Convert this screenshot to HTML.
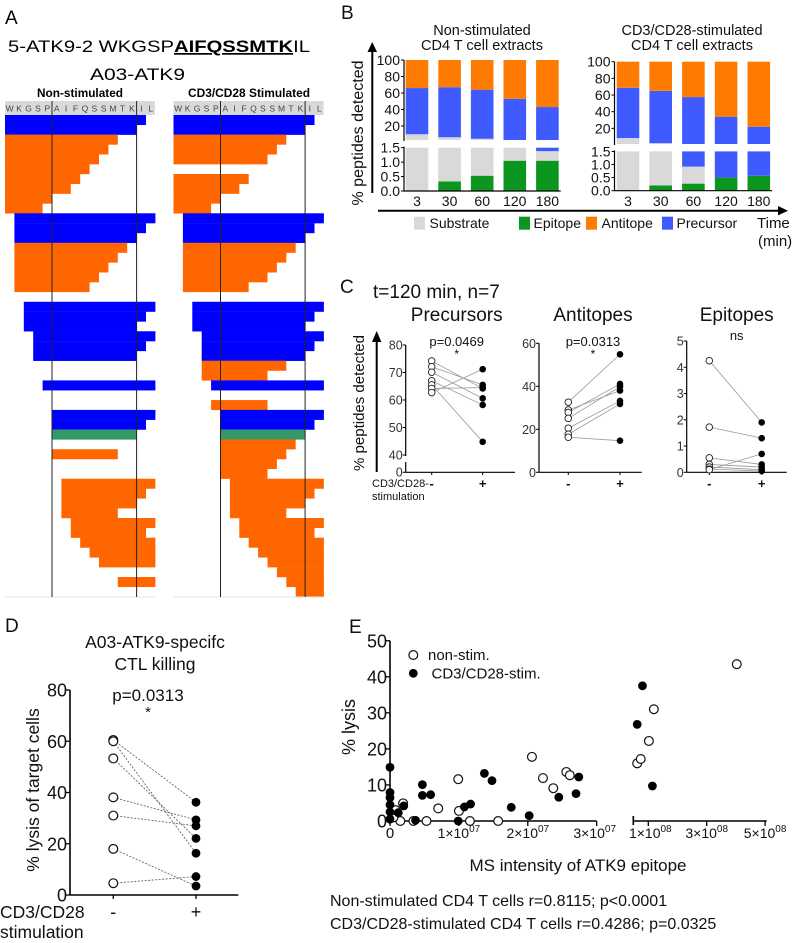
<!DOCTYPE html>
<html><head><meta charset="utf-8">
<style>
html,body{margin:0;padding:0;background:#fff;}
svg{display:block;font-family:"Liberation Sans",Arial,sans-serif;}
</style></head>
<body>
<svg id="fig" width="800" height="943" viewBox="0 0 800 943" xmlns="http://www.w3.org/2000/svg">
  <!-- Panel A static text -->
  <text x="5" y="24" font-size="19">A</text>
  <text x="8" y="52" font-size="17" textLength="302" lengthAdjust="spacingAndGlyphs">5-ATK9-2 WKGSP<tspan font-weight="bold" text-decoration="underline">AIFQSSMTK</tspan>IL</text>
  <text x="90" y="80" font-size="17" textLength="95" lengthAdjust="spacingAndGlyphs">A03-ATK9</text>
  <text x="37" y="97" font-size="12" font-weight="bold" textLength="86" lengthAdjust="spacingAndGlyphs">Non-stimulated</text>
  <text x="188" y="97" font-size="12" font-weight="bold" textLength="122" lengthAdjust="spacingAndGlyphs">CD3/CD28 Stimulated</text>
  <g id="panelA"></g>
  <g id="panelB"></g>
  <g id="panelC"></g>
  <g id="panelD"></g>
  <g id="panelE"></g>
</svg>
<script>
// ---------- DATA ----------
// Panel A rows: [row, type(P=precursor,A=antitope,E=epitope), startResidue, endResidue]
const aResidues = ['W','K','G','S','P','A','I','F','Q','S','S','M','T','K','I','L'];
const aLeftRows = [[0,'P',0,15],[1,'P',0,14],[2,'A',0,12],[3,'A',0,11],[4,'A',0,10],[5,'A',0,9],[6,'A',0,8],[7,'A',0,7],[8,'A',0,5],[9,'A',0,4],[10,'P',1,16],[11,'P',1,15],[12,'P',1,14],[13,'A',1,13],[14,'A',1,12],[15,'A',1,11],[16,'A',1,10],[17,'A',1,9],[19,'P',2,16],[20,'P',2,15],[21,'P',2,14],[22,'P',3,16],[23,'P',3,15],[24,'P',3,14],[27,'P',4,16],[30,'P',5,16],[31,'P',5,15],[32,'E',5,14],[34,'A',5,12],[37,'A',6,16],[38,'A',6,15],[39,'A',6,14],[40,'A',6,12],[41,'A',7,16],[42,'A',7,15],[43,'A',8,16],[44,'A',9,16],[45,'A',10,16],[47,'A',12,16]];
const aRightRows = [[0,'P',0,15],[1,'P',0,14],[2,'A',0,12],[3,'A',0,11],[4,'A',0,10],[6,'A',0,8],[7,'A',0,7],[8,'A',0,5],[9,'A',0,4],[10,'P',1,16],[11,'P',1,15],[12,'P',1,14],[13,'A',1,13],[14,'A',1,12],[15,'A',1,11],[16,'A',1,10],[17,'A',1,8],[19,'P',2,16],[20,'P',2,15],[21,'P',2,14],[22,'P',3,16],[23,'P',3,15],[24,'P',3,14],[25,'A',3,12],[26,'A',3,10],[27,'P',4,16],[29,'A',4,10],[30,'P',5,16],[31,'P',5,15],[32,'E',5,14],[33,'A',5,13],[34,'A',5,12],[35,'A',5,11],[36,'A',5,10],[37,'A',6,16],[38,'A',6,15],[39,'A',6,14],[40,'A',6,12],[41,'A',7,16],[42,'A',7,15],[43,'A',8,16],[44,'A',9,16],[45,'A',10,16],[46,'A',11,16],[47,'A',12,16],[48,'A',13,16]];

// Panel B
const bTimes = ['3','30','60','120','180'];
const bNsSubstrate = [10, 6, 4, 1.5, 0.33];
const bNsEpitope = [0, 0.33, 0.53, 1.05, 1.05];
const bNsPrecursor = [56, 60.7, 59.5, 50.5, 41.6];
const bStSubstrate = [8.3, 2, 0.65, 0, 0];
const bStEpitope = [0, 0.2, 0.27, 0.5, 0.57];
const bStPrecursor = [60.4, 62.8, 56.6, 33.5, 21.4];
const bUpperTicks = [20, 40, 60, 80, 100];
const bLowerTicks = [0, 0.5, 1.0, 1.5];
const bLegend = ['Substrate','Epitope','Antitope','Precursor'];

// Panel C
const cPreMinus = [74.2, 72.1, 70.1, 67, 65.5, 64.2, 62.7];
const cPrePlus = [64.2, 65.5, 60.6, 58.2, 44.8, 64.5, 71.2];
const cAntiMinus = [32.6, 29.0, 27.8, 25.1, 20.5, 17.7, 16.3];
const cAntiPlus = [54.9, 38.0, 41.1, 39.8, 33.2, 31.8, 14.7];
const cEpiMinus = [4.25, 1.72, 0.55, 0.3, 0.2, 0.12, 0.1];
const cEpiPlus = [1.9, 1.3, 0.3, 0.2, 0.1, 0.05, 0.7];
const cPreTicks = [40, 50, 60, 70, 80];
const cAntiTicks = [0, 20, 40, 60];
const cEpiTicks = [0, 1, 2, 3, 4, 5];

// Panel D
const dMinus = [60.5, 60, 53.3, 38.1, 31, 18, 4.6];
const dPlus = [36.2, 16.3, 22.1, 29.3, 27, 3.5, 7.2];
const dTicks = [0, 20, 40, 60, 80];

// Panel E (x in units of 1e7)
const eOpenX = [0.15, 0.19, 0.7, 0.99, 1.0, 0.34, 0.53, 1.16, 1.57, 2.06, 2.22, 2.37, 2.56, 2.61, 0.05, 0.08, 6.2, 7.4, 10.2, 11.9, 40.3];
const eOpenY = [0, 4.9, 3.5, 11.6, 2.8, 0, 0, 0, 0, 17.8, 11.9, 9.1, 13.6, 12.7, 1, 3, 16, 17.2, 22.2, 31, 43.5];
const eFillX = [0, 0, 0, 0, 0, 0, 0.12, 0.2, 0.37, 0.47, 0.47, 0.59, 0.99, 1.08, 1.17, 1.37, 1.48, 1.76, 2.02, 2.45, 2.7, 2.74, 6.2, 8.0, 11.4];
const eFillY = [14.9, 7.9, 6.5, 4.5, 2.5, 0.5, 2.3, 4.2, 0.2, 10.1, 7.1, 7.3, 0, 3.9, 4.7, 13.2, 11.2, 3.8, 1.5, 6.6, 7.6, 12.2, 26.8, 37.5, 9.7];
const eYTicks = [0, 10, 20, 30, 40, 50];
const eXTicks1 = [0, 1, 2, 3];
const eXTicks2 = [10, 30, 50];

// ---------- HELPERS ----------
const NS = 'http://www.w3.org/2000/svg';
function mk(tag, attrs, name, parent) {
  const el = document.createElementNS(NS, tag);
  for (const k in attrs) el.setAttribute(k, attrs[k]);
  
  
  parent.appendChild(el);
  return el;
}
function tx(parent, x, y, s, size, anchor, name, extra) {
  const a = Object.assign({x: x, y: y, 'font-size': size, 'text-anchor': anchor || 'start', fill: '#111'}, extra || {});
  const t = mk('text', a, name, parent);
  t.textContent = s;
  return t;
}
function line(parent, x1, y1, x2, y2, name, stroke, w, dash) {
  const a = {x1: x1, y1: y1, x2: x2, y2: y2, stroke: stroke || '#000', 'stroke-width': w || 1};
  if (dash) a['stroke-dasharray'] = dash;
  return mk('line', a, name, parent);
}
const COL = {P: '#0000ff', A: '#ff6600', E: '#339966'};

// ---------- PANEL A ----------
(function () {
  const g = document.getElementById('panelA');
  const cw = 9.4, rh = 9.83, y0 = 115;
  function map(gx, rows, side) {
    mk('rect', {x: gx, y: 101, width: 150, height: 14, fill: '#d9d9d9'}, side + '-residue-header', g);
    aResidues.forEach((r, i) => {
      tx(g, gx + cw * i + cw / 2, 111.5, r, 8.5, 'middle', side + '-residue-' + i, {fill: '#444'});
    });
    rows.forEach((r, i) => {
      mk('rect', {x: gx + r[2] * cw, y: y0 + r[0] * rh, width: (r[3] - r[2]) * cw, height: rh + 0.2, fill: COL[r[1]]}, side + '-peptide-' + i, g);
    });
    line(g, gx, 597, gx + 150, 597, side + '-map-bottom', '#e6e6e6', 1);
    line(g, gx + 5 * cw, 101, gx + 5 * cw, 597, side + '-epitope-start-line', '#222', 1);
    line(g, gx + 14 * cw, 101, gx + 14 * cw, 597, side + '-epitope-end-line', '#222', 1);
  }
  map(5, aLeftRows, 'non-stim');
  map(173.5, aRightRows, 'stim');
})();

// ---------- PANEL B ----------
(function () {
  const g = document.getElementById('panelB');
  tx(g, 341, 19, 'B', 19, 'start', 'panel-b-label');
  const gray = '#d9d9d9', green = '#0b961f', orange = '#ff7a00', blue = '#3f5bff';
  function chart(cfg, side) {
    const yU = v => cfg.u0 - v * cfg.uk, yL = v => cfg.l0 - v * cfg.lk;
    tx(g, cfg.cx, 35, cfg.t1, 14.5, 'middle', side + '-title-line1');
    tx(g, cfg.cx, 50, 'CD4 T cell extracts', 14.5, 'middle', side + '-title-line2');
    bTimes.forEach((t, i) => {
      const x = cfg.bx + i * cfg.step, w = cfg.bw;
      const e = cfg.epi[i], s = cfg.sub[i], p = cfg.pre[i];
      const segs = [[0, e, green, 'epitope'], [e, e + s, gray, 'substrate'], [e + s, e + s + p, blue, 'precursor'], [e + s + p, 100, orange, 'antitope']];
      segs.forEach(sg => {
        // upper
        let a = Math.max(sg[0], 0), b = sg[1];
        let ya = Math.min(yU(a), cfg.ubot), yb = Math.min(yU(b), cfg.ubot);
        if (ya - yb > 0.1) mk('rect', {x: x, y: yb, width: w, height: ya - yb, fill: sg[2]}, side + '-bar-' + t + '-' + sg[3] + '-upper', g);
        // lower
        let la = Math.min(sg[0], 1.5), lb = Math.min(sg[1], 1.5);
        if (lb - la > 0.001) mk('rect', {x: x, y: yL(lb), width: w, height: yL(la) - yL(lb), fill: sg[2]}, side + '-bar-' + t + '-' + sg[3] + '-lower', g);
      });
      tx(g, x + w / 2, 206, t, 14, 'middle', side + '-x-label-' + t);
    });
    bUpperTicks.forEach(v => {
      tx(g, cfg.lx, yU(v) + 5, String(v), 14, 'end', side + '-upper-tick-' + v);
      line(g, cfg.lx + 1, yU(v), cfg.lx + 4, yU(v), side + '-upper-tickmark-' + v, '#000', 1);
    });
    bLowerTicks.forEach(v => {
      tx(g, cfg.lx, yL(v) + 5, v.toFixed(1), 14, 'end', side + '-lower-tick-' + v);
      line(g, cfg.lx + 1, yL(v), cfg.lx + 4, yL(v), side + '-lower-tickmark-' + v, '#000', 1);
    });
    line(g, cfg.lx + 4, yU(100), cfg.lx + 4, cfg.ubot + 1, side + '-upper-axis', '#000', 1.2);
    line(g, cfg.lx + 4, yL(1.5) - 1, cfg.lx + 4, yL(0), side + '-lower-axis', '#000', 1.2);
    line(g, cfg.lx + 4, yL(0), cfg.bx + 4 * cfg.step + cfg.bw + 2, yL(0), side + '-x-axis', '#000', 1.2);
  }
  chart({cx: 482, t1: 'Non-stimulated', bx: 405.7, step: 32.6, bw: 22.6, lx: 400, u0: 142.5, uk: 0.825, ubot: 140, l0: 191, lk: 28.87,
         epi: bNsEpitope, sub: bNsSubstrate, pre: bNsPrecursor}, 'non-stim');
  chart({cx: 692, t1: 'CD3/CD28-stimulated', bx: 616.7, step: 32.7, bw: 22.6, lx: 610.5, u0: 145, uk: 0.833, ubot: 144, l0: 190.7, lk: 26.2,
         epi: bStEpitope, sub: bStSubstrate, pre: bStPrecursor}, 'stim');
  // axes arrows
  line(g, 372.3, 193, 372.3, 50, 'b-y-arrow-line', '#000', 2);
  mk('polygon', {points: '367.5,52 372.3,42 377,52', fill: '#000'}, 'b-y-arrowhead', g);
  line(g, 378, 210.7, 780, 210.7, 'b-x-arrow-line', '#000', 2);
  mk('polygon', {points: '778,206 788,210.7 778,215.4', fill: '#000'}, 'b-x-arrowhead', g);
  tx(g, 0, 0, '% peptides detected', 16, 'middle', 'b-y-axis-title', {transform: 'translate(363,133) rotate(-90)'});
  const cols = [gray, green, orange, blue];
  const sx = [414, 519, 586, 662], lx = [429.5, 533.5, 601.5, 676.5];
  bLegend.forEach((l, i) => {
    mk('rect', {x: sx[i], y: 216.7, width: 11, height: 13, fill: cols[i]}, 'legend-swatch-' + l.toLowerCase(), g);
    tx(g, lx[i], 228, l, 14, 'start', 'legend-entry-' + l.toLowerCase());
  });
  tx(g, 757, 228, 'Time', 15, 'start', 'b-x-axis-title');
  tx(g, 758, 246, '(min)', 15, 'start', 'b-x-axis-unit');
})();

// ---------- PANEL C ----------
(function () {
  const g = document.getElementById('panelC');
  tx(g, 340, 293, 'C', 19, 'start', 'panel-c-label');
  tx(g, 373, 298, 't=120 min, n=7', 19, 'start', 'panel-c-heading');
  line(g, 376.7, 472, 376.7, 340, 'c-y-arrow-line', '#000', 2);
  mk('polygon', {points: '372,342 376.7,331 381.4,342', fill: '#000'}, 'c-y-arrowhead', g);
  tx(g, 0, 0, '% peptides detected', 15, 'middle', 'c-y-axis-title', {transform: 'translate(364,403) rotate(-90)'});
  tx(g, 372, 487, 'CD3/CD28-', 11, 'start', 'c-x-caption-line1');
  tx(g, 372, 500, 'stimulation', 11, 'start', 'c-x-caption-line2');
  function chart(c) {
    const y = c.y;
    tx(g, c.cx, 321, c.title, 19, 'middle', c.n + '-title');
    tx(g, c.cx, c.pY, c.p, 13, 'middle', c.n + '-p-value');
    if (c.star) tx(g, c.cx, 358, '*', 12, 'middle', c.n + '-significance');
    c.ticks.forEach(v => {
      tx(g, c.ax - 3, y(v) + 4.5, String(v), 12.5, 'end', c.n + '-y-tick-' + v, {fill: '#333'});
      line(g, c.ax - 3, y(v), c.ax, y(v), c.n + '-y-tickmark-' + v, '#000', 1);
    });
    if (c.brk) {
      line(g, c.ax, y(80), c.ax, y(40) + 1, c.n + '-y-axis-upper', '#000', 1.2);
      line(g, c.ax, 462, c.ax, 472.3, c.n + '-y-axis-lower', '#000', 1.2);
      tx(g, c.ax - 3, 476.5, '0', 12.5, 'end', c.n + '-y-tick-0', {fill: '#333'});
      line(g, c.ax - 3, 472.3, c.ax, 472.3, c.n + '-y-tickmark-0', '#000', 1);
    } else {
      line(g, c.ax, y(c.ticks[c.ticks.length - 1]), c.ax, 472.3, c.n + '-y-axis', '#000', 1.2);
    }
    line(g, c.ax, 472.3, c.ax2, 472.3, c.n + '-x-axis', '#000', 1.2);
    line(g, c.mx, 472.3, c.mx, 475, c.n + '-tick-minus', '#000', 1);
    line(g, c.px, 472.3, c.px, 475, c.n + '-tick-plus', '#000', 1);
    tx(g, c.mx, 488, '-', 13, 'middle', c.n + '-x-label-minus', {'font-weight': 'bold'});
    tx(g, c.px, 488, '+', 13, 'middle', c.n + '-x-label-plus', {'font-weight': 'bold'});
    c.minus.forEach((v, i) => {
      line(g, c.mx, y(v), c.px, y(c.plus[i]), c.n + '-pair-line-' + i, '#999', 0.8);
    });
    c.minus.forEach((v, i) => {
      mk('circle', {cx: c.mx, cy: y(v), r: 3.3, fill: '#fff', stroke: '#222', 'stroke-width': 0.9}, c.n + '-point-minus-' + i, g);
    });
    c.plus.forEach((v, i) => {
      mk('circle', {cx: c.px, cy: y(v), r: 3.3, fill: '#000'}, c.n + '-point-plus-' + i, g);
    });
  }
  chart({n: 'precursors', title: 'Precursors', cx: 456.7, p: 'p=0.0469', pY: 346, star: true, ax: 405.7, ax2: 515, mx: 431.7, px: 482.7,
         ticks: cPreTicks, brk: true, y: v => 345 + (80 - v) * 2.75, minus: cPreMinus, plus: cPrePlus});
  chart({n: 'antitopes', title: 'Antitopes', cx: 593, p: 'p=0.0313', pY: 346, star: true, ax: 539, ax2: 641.7, mx: 568.3, px: 620,
         ticks: cAntiTicks, brk: false, y: v => 472.3 - v * 2.15, minus: cAntiMinus, plus: cAntiPlus});
  chart({n: 'epitopes', title: 'Epitopes', cx: 736.7, p: 'ns', pY: 340, star: false, ax: 686.7, ax2: 786.7, mx: 709.3, px: 761.7,
         ticks: cEpiTicks, brk: false, y: v => 472.3 - v * 26.26, minus: cEpiMinus, plus: cEpiPlus});
})();

// ---------- PANEL D ----------
(function () {
  const g = document.getElementById('panelD');
  const y = v => 895 - v * 2.5625, mx = 113.3, px = 196;
  tx(g, 5, 632, 'D', 19, 'start', 'panel-d-label');
  tx(g, 155, 648, 'A03-ATK9-specifc', 17.5, 'middle', 'd-title-line1');
  tx(g, 155, 670, 'CTL killing', 17.5, 'middle', 'd-title-line2');
  tx(g, 148, 701, 'p=0.0313', 17, 'middle', 'd-p-value');
  tx(g, 148, 717, '*', 15, 'middle', 'd-significance');
  dTicks.forEach(v => {
    tx(g, 67, y(v) + 6.5, String(v), 18, 'end', 'd-y-tick-' + v);
    line(g, 66, y(v), 70, y(v), 'd-y-tickmark-' + v, '#000', 1.3);
  });
  line(g, 70, y(80), 70, 895, 'd-y-axis', '#000', 1.6);
  line(g, 70, 895, 238.3, 895, 'd-x-axis', '#000', 1.6);
  line(g, mx, 895, mx, 899, 'd-tick-minus', '#000', 1.3);
  line(g, px, 895, px, 899, 'd-tick-plus', '#000', 1.3);
  tx(g, 0, 0, '% lysis of target cells', 17.5, 'middle', 'd-y-axis-title', {transform: 'translate(39,790) rotate(-90)'});
  tx(g, 0, 918, 'CD3/CD28', 17.5, 'start', 'd-x-caption-line1');
  tx(g, 0, 938, 'stimulation', 17.5, 'start', 'd-x-caption-line2');
  tx(g, mx, 918, '-', 18, 'middle', 'd-x-label-minus');
  tx(g, px, 918, '+', 18, 'middle', 'd-x-label-plus');
  dMinus.forEach((v, i) => {
    line(g, mx, y(v), px, y(dPlus[i]), 'd-pair-line-' + i, '#666', 0.9, '2,1.5');
  });
  dMinus.forEach((v, i) => {
    mk('circle', {cx: mx, cy: y(v), r: 4.4, fill: '#fff', stroke: '#111', 'stroke-width': 1.2}, 'd-point-minus-' + i, g);
  });
  dPlus.forEach((v, i) => {
    mk('circle', {cx: px, cy: y(v), r: 4.4, fill: '#000'}, 'd-point-plus-' + i, g);
  });
})();

// ---------- PANEL E ----------
(function () {
  const g = document.getElementById('panelE');
  const y = v => 821 - v * 3.605;
  const x = v => v <= 3.2 ? 390 + v * 68.9 : 648.3 + (v - 10) / 10 * 29.2;
  tx(g, 349, 633, 'E', 19, 'start', 'panel-e-label');
  eYTicks.forEach(v => {
    tx(g, 387, y(v) + 6.5, String(v), 18, 'end', 'e-y-tick-' + v);
    line(g, 386, y(v), 390, y(v), 'e-y-tickmark-' + v, '#000', 1.3);
  });
  line(g, 390, y(50), 390, 821, 'e-y-axis', '#000', 1.6);
  line(g, 390, 821, 596.7, 821, 'e-x-axis-segment1', '#000', 1.6);
  line(g, 633.3, 821, 766.7, 821, 'e-x-axis-segment2', '#000', 1.6);
  line(g, 633.3, 816, 633.3, 825, 'e-x-axis-break', '#000', 1.6);
  eXTicks1.forEach(v => {
    line(g, x(v), 821, x(v), 826, 'e-x-tickmark-' + v, '#000', 1.3);
    if (v === 0) { tx(g, x(v), 838, '0', 15, 'middle', 'e-x-tick-0'); }
    else {
      const t = tx(g, x(v) + (v === 3 ? -2 : 0), 838, v + '×10', 14, 'middle', 'e-x-tick-' + v + 'e7');
      const s = document.createElementNS(NS, 'tspan');
      s.setAttribute('dy', '-6'); s.setAttribute('font-size', '10'); s.textContent = '07';
      t.appendChild(s);
    }
  });
  eXTicks2.forEach(v => {
    line(g, x(v), 821, x(v), 826, 'e-x-tickmark-' + v + 'e7', '#000', 1.3);
    const t = tx(g, x(v) + (v === 10 ? 2 : 0), 838, (v / 10) + '×10', 14, 'middle', 'e-x-tick-' + v / 10 + 'e8');
    const s = document.createElementNS(NS, 'tspan');
    s.setAttribute('dy', '-6'); s.setAttribute('font-size', '10'); s.textContent = '08';
    t.appendChild(s);
  });
  tx(g, 0, 0, '% lysis', 18, 'middle', 'e-y-axis-title', {transform: 'translate(355,727) rotate(-90)'});
  tx(g, 578, 871, 'MS intensity of ATK9 epitope', 17, 'middle', 'e-x-axis-title');
  tx(g, 330, 906, 'Non-stimulated CD4 T cells r=0.8115; p<0.0001', 16, 'start', 'e-stat-non-stim');
  tx(g, 330, 929, 'CD3/CD28-stimulated CD4 T cells r=0.4286; p=0.0325', 16, 'start', 'e-stat-stim');
  mk('circle', {cx: 413.3, cy: 655, r: 4.4, fill: '#fff', stroke: '#111', 'stroke-width': 1.2}, 'legend-marker-non-stim', g);
  tx(g, 428, 660, 'non-stim.', 15, 'start', 'legend-entry-non-stim');
  mk('circle', {cx: 413.3, cy: 673.3, r: 4.4, fill: '#000'}, 'legend-marker-stim', g);
  tx(g, 431.5, 678.5, 'CD3/CD28-stim.', 15, 'start', 'legend-entry-stim');
  eOpenX.forEach((v, i) => {
    mk('circle', {cx: x(v), cy: y(eOpenY[i]), r: 4.4, fill: '#fff', stroke: '#111', 'stroke-width': 1.2}, 'e-point-non-stim-' + i, g);
  });
  eFillX.forEach((v, i) => {
    mk('circle', {cx: x(v), cy: y(eFillY[i]), r: 4.4, fill: '#000'}, 'e-point-stim-' + i, g);
  });
})();
</script>
</body></html>
